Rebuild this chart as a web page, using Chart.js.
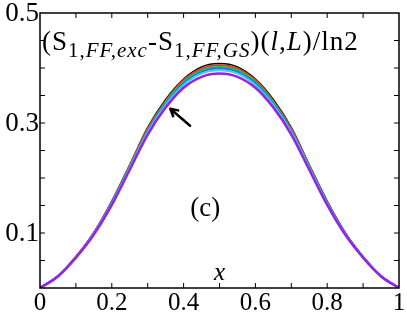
<!DOCTYPE html>
<html>
<head>
<meta charset="utf-8">
<script src="https://cdn.jsdelivr.net/npm/chart.js@4/dist/chart.umd.min.js"></script>
<style>
body{margin:0;background:#fff;}
#wrap{width:407px;height:315px;}
</style>
</head>
<body>
<div id="wrap"><canvas id="c"></canvas></div>
<script>
// x grid
const xs=[0,0.05,0.1,0.15,0.2,0.25,0.3,0.35,0.4,0.45,0.5,0.55,0.6,0.65,0.7,0.75,0.8,0.85,0.9,0.95,1];

// curves, top to bottom at the peak
const sBlack =[0,0.022,0.057,0.101,0.158,0.224,0.292,0.343,0.380,0.402,0.408,0.402,0.380,0.343,0.292,0.224,0.158,0.101,0.057,0.022,0];
const sRed   =[0,0.022,0.057,0.100,0.157,0.223,0.290,0.340,0.378,0.399,0.405,0.399,0.378,0.340,0.290,0.223,0.157,0.100,0.057,0.022,0];
const sGreen =[0,0.022,0.056,0.099,0.156,0.221,0.287,0.338,0.375,0.396,0.402,0.396,0.375,0.338,0.287,0.221,0.156,0.099,0.056,0.022,0];
const sBlue  =[0,0.022,0.056,0.099,0.155,0.219,0.285,0.335,0.372,0.393,0.399,0.393,0.372,0.335,0.285,0.219,0.155,0.099,0.056,0.022,0];
const sCyan  =[0,0.022,0.055,0.098,0.153,0.218,0.283,0.333,0.369,0.390,0.396,0.390,0.369,0.333,0.283,0.218,0.153,0.098,0.055,0.022,0];
const sViolet=[0,0.021,0.055,0.097,0.151,0.215,0.279,0.328,0.364,0.384,0.390,0.384,0.364,0.328,0.279,0.215,0.151,0.097,0.055,0.021,0];

const xTickLabels=[0,0.2,0.4,0.6,0.8,1];
const yTickLabels=[0.1,0.3,0.5];

function pts(ys){ return xs.map((x,i)=>({x:x,y:ys[i]})); }

function line(data,color,w){
    return {data:pts(data),borderColor:color,borderWidth:w,pointRadius:0,
        fill:false,cubicInterpolationMode:"monotone"};
}

const serif='"Liberation Serif","Times New Roman",serif';

// frame, inward ticks, labels and annotations
const decor={
    id:"decor",
    afterDraw(chart){
        const ctx=chart.ctx;
        const xS=chart.scales.x, yS=chart.scales.y;
        const L=xS.left, R=xS.right, T=yS.top, B=yS.bottom;
        ctx.save();
        ctx.strokeStyle="#000";
        ctx.lineWidth=1.5;
        ctx.strokeRect(L,T,R-L,B-T);

        ctx.lineWidth=1;
        ctx.beginPath();
        for(let i=1;i<10;i++){
            const px=xS.getPixelForValue(i/10);
            ctx.moveTo(px,B); ctx.lineTo(px,B-5);
            ctx.moveTo(px,T); ctx.lineTo(px,T+5);
        }
        for(let i=1;i<10;i++){
            const py=yS.getPixelForValue(i*0.05);
            ctx.moveTo(L,py); ctx.lineTo(L+5,py);
            ctx.moveTo(R,py); ctx.lineTo(R-5,py);
        }
        ctx.stroke();

        ctx.fillStyle="#000";
        ctx.font="25px "+serif;
        ctx.textAlign="center";
        ctx.textBaseline="alphabetic";
        xTickLabels.forEach(v=>{
            ctx.fillText(String(v),xS.getPixelForValue(v),310);
        });
        ctx.font="27px "+serif;
        ctx.textAlign="right";
        yTickLabels.forEach(v=>{
            ctx.fillText(String(v),L-1,yS.getPixelForValue(v)+8);
        });

        // title inside the plot
        ctx.textAlign="left";
        ctx.letterSpacing="1px";
        let x=L+2;
        const base=50, sub=57;
        const parts=[
            ["(S","27px "+serif,base],
            ["1,","21px "+serif,sub],
            ["FF,exc","italic 21px "+serif,sub],
            ["-S","27px "+serif,base],
            ["1,","21px "+serif,sub],
            ["FF,GS","italic 21px "+serif,sub],
            [")(","27px "+serif,base],
            ["l","italic 27px "+serif,base],
            [",","27px "+serif,base],
            ["L","italic 27px "+serif,base],
            [")/ln2","27px "+serif,base]
        ];
        parts.forEach(p=>{
            ctx.font=p[1];
            ctx.fillText(p[0],x,p[2]);
            x+=ctx.measureText(p[0]).width;
        });
        ctx.letterSpacing="0px";

        ctx.font="27px "+serif;
        ctx.textAlign="center";
        ctx.fillText("(c)",xS.getPixelForValue(0.46),216);
        ctx.font="italic 25px "+serif;
        ctx.fillText("x",xS.getPixelForValue(0.5),280);

        // arrow
        const x0=xS.getPixelForValue(0.418), y0=yS.getPixelForValue(0.295);
        const x1=xS.getPixelForValue(0.363), y1=yS.getPixelForValue(0.326);
        ctx.lineWidth=2.5;
        ctx.lineCap="round";
        ctx.beginPath();
        ctx.moveTo(x0,y0); ctx.lineTo(x1,y1);
        const a=Math.atan2(y1-y0,x1-x0);
        ctx.moveTo(x1,y1); ctx.lineTo(x1-8*Math.cos(a-0.5),y1-8*Math.sin(a-0.5));
        ctx.moveTo(x1,y1); ctx.lineTo(x1-8*Math.cos(a+0.5),y1-8*Math.sin(a+0.5));
        ctx.stroke();
        ctx.restore();
    }
};

new Chart(document.getElementById("c"),{
    type:"line",
    data:{datasets:[
        line(sViolet,"#9b1fe8",2.5),
        line(sCyan,"#33d6e6",2),
        line(sBlue,"#2a6cf0",2),
        line(sGreen,"#22c03a",2),
        line(sRed,"#f0302a",2),
        line(sBlack,"#000",1.5)
    ]},
    options:{
        responsive:true,
        maintainAspectRatio:false,
        animation:false,
        layout:{padding:{left:40,top:13,right:8,bottom:27}},
        plugins:{legend:{display:false},tooltip:{enabled:false}},
        scales:{
            x:{type:"linear",min:0,max:1,display:false},
            y:{type:"linear",min:0,max:0.5,display:false}
        }
    },
    plugins:[decor]
});
</script>
</body>
</html>
